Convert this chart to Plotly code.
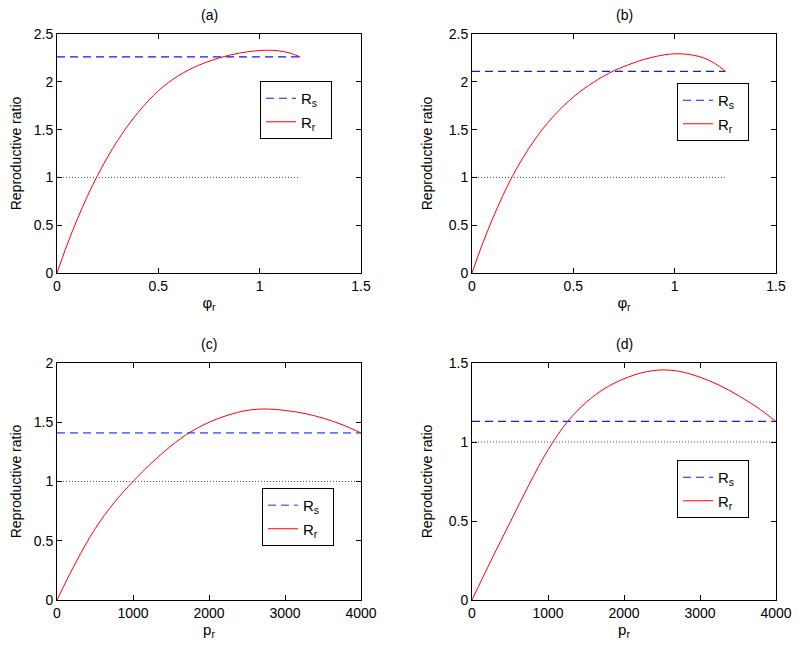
import plotly.graph_objects as go

# ---------------- data ----------------
a_phi = [0, 0.05, 0.1, 0.15, 0.2, 0.25, 0.3, 0.35, 0.4, 0.45, 0.5, 0.55, 0.6,
         0.65, 0.7, 0.75, 0.8, 0.85, 0.9, 0.95, 1.0, 1.05, 1.1, 1.15, 1.2]
a_Rr = [0, 0.296, 0.563, 0.804, 1.02, 1.215, 1.388, 1.543, 1.679, 1.80, 1.905,
        1.993, 2.065, 2.124, 2.174, 2.215, 2.25, 2.278, 2.30, 2.317, 2.327, 2.33,
        2.322, 2.30, 2.26]
a_Rs = 2.26
a_one_x = [0, 1.2]

b_phi = [0, 0.05, 0.1, 0.15, 0.2, 0.25, 0.3, 0.35, 0.4, 0.45, 0.5, 0.55, 0.6,
         0.65, 0.7, 0.75, 0.8, 0.85, 0.9, 0.95, 1.0, 1.05, 1.1, 1.15, 1.2, 1.25]
b_Rr = [0, 0.295, 0.56, 0.80, 1.015, 1.20, 1.365, 1.51, 1.635, 1.745, 1.84,
        1.925, 1.995, 2.06, 2.115, 2.16, 2.20, 2.235, 2.262, 2.282, 2.293,
        2.29, 2.275, 2.245, 2.19, 2.11]
b_Rs = 2.11
b_one_x = [0, 1.25]

c_p = [0, 250, 500, 750, 1000, 1250, 1500, 1750, 2000, 2250, 2500, 2750,
       3000, 3250, 3500, 3750, 4000]
c_Rr = [0, 0.32, 0.60, 0.82, 1.00, 1.16, 1.30, 1.415, 1.50, 1.56, 1.60, 1.612,
        1.60, 1.575, 1.535, 1.48, 1.41]
c_Rs = 1.41
c_one_x = [0, 4000]

d_p = [0, 250, 500, 750, 1000, 1250, 1500, 1750, 2000, 2250, 2500, 2750,
       3000, 3250, 3500, 3750, 4000]
d_Rr = [0, 0.25, 0.49, 0.73, 0.95, 1.125, 1.25, 1.34, 1.40, 1.44, 1.456,
        1.445, 1.41, 1.36, 1.295, 1.22, 1.13]
d_Rs = 1.13
d_one_x = [0, 4000]

panels = [
    dict(tag="(a)", x=a_phi, r=a_Rr, rs=a_Rs, one=a_one_x, xlab="φ<sub>r</sub>",
         xr=[0, 1.5], xd=0.5, yr=[0, 2.5], yd=0.5, rsc="#1515ff", rsw=1.2),
    dict(tag="(b)", x=b_phi, r=b_Rr, rs=b_Rs, one=b_one_x, xlab="φ<sub>r</sub>",
         xr=[0, 1.5], xd=0.5, yr=[0, 2.5], yd=0.5, rsc="#1515ff", rsw=1.2),
    dict(tag="(c)", x=c_p, r=c_Rr, rs=c_Rs, one=c_one_x, xlab="p<sub>r</sub>",
         xr=[0, 4000], xd=1000, yr=[0, 2], yd=0.5, rsc="#6677ff", rsw=1.6),
    dict(tag="(d)", x=d_p, r=d_Rr, rs=d_Rs, one=d_one_x, xlab="p<sub>r</sub>",
         xr=[0, 4000], xd=1000, yr=[0, 1.5], yd=0.5, rsc="#1515ff", rsw=1.2),
]

# page body has an 8px margin, so the figure is laid out 8px smaller
OFF = 8
W, H = 800 - OFF, 655 - OFF


def px_x(v):
    return (v - OFF) / W


def px_y(v):
    return 1 - (v - OFF) / H


xdoms = [[px_x(57), px_x(361)], [px_x(472), px_x(776)]]
ydoms = [[px_y(273), px_y(34)], [px_y(600), px_y(363)]]
legend_pos = [(260, 81), (677, 83), (262, 488), (677, 460)]

FONT = "Liberation Sans, Arial, Helvetica, sans-serif"

fig = go.Figure()
layout = dict(
    width=W, height=H, margin=dict(l=0, r=0, t=0, b=0, autoexpand=False),
    plot_bgcolor="white", paper_bgcolor="white",
    font=dict(family=FONT, size=14, color="black"),
    annotations=[],
)

for i, p in enumerate(panels):
    n = i + 1
    xa = "x" if n == 1 else f"x{n}"
    ya = "y" if n == 1 else f"y{n}"
    lg = "legend" if n == 1 else f"legend{n}"
    row, col = divmod(i, 2)
    xs = [p["x"][0], p["x"][-1]]
    fig.add_trace(go.Scatter(
        x=p["one"], y=[1, 1], mode="lines", xaxis=xa, yaxis=ya,
        line=dict(color="#555555", width=1, dash="1px,2px"),
        showlegend=False, hoverinfo="skip"))
    fig.add_trace(go.Scatter(
        x=xs, y=[p["rs"], p["rs"]], mode="lines", xaxis=xa, yaxis=ya,
        name="R<sub>s</sub>&nbsp;&nbsp;", legend=lg, legendgroup=f"s{n}",
        line=dict(color=p["rsc"], width=p["rsw"], dash="8px,5px")))
    fig.add_trace(go.Scatter(
        x=p["x"], y=p["r"], mode="lines", xaxis=xa, yaxis=ya,
        name="R<sub>r</sub>&nbsp;&nbsp;", legend=lg, legendgroup=f"r{n}",
        line_shape="spline",
        line=dict(color="#ff0000", width=1)))

    axis_common = dict(
        showline=True, linecolor="black", linewidth=1, mirror="ticks",
        ticks="inside", ticklen=5, tickcolor="black", showgrid=False,
        zeroline=False, automargin=False,
        tickfont=dict(size=14, family=FONT))
    xkey = "xaxis" if n == 1 else f"xaxis{n}"
    ykey = "yaxis" if n == 1 else f"yaxis{n}"
    layout[xkey] = dict(axis_common, domain=xdoms[col], anchor=ya,
                        range=p["xr"], dtick=p["xd"], tick0=0,
                        title=dict(text=p["xlab"], standoff=4,
                                   font=dict(size=15, family=FONT)))
    layout[ykey] = dict(axis_common, domain=ydoms[row], anchor=xa,
                        range=p["yr"], dtick=p["yd"], tick0=0,
                        title=dict(text="Reproductive ratio", standoff=12,
                                   font=dict(size=14, family=FONT)))
    lx, ly = legend_pos[i]
    layout[lg] = dict(x=px_x(lx), y=px_y(ly), xanchor="left", yanchor="top",
                      xref="paper", yref="paper",
                      bgcolor="white", bordercolor="black", borderwidth=1,
                      font=dict(size=15, family=FONT), itemwidth=30,
                      tracegroupgap=1)
    layout["annotations"].append(dict(
        text=p["tag"], xref=f"{xa} domain", yref=f"{ya} domain",
        x=0.5, y=1, xanchor="center", yanchor="bottom", yshift=9,
        showarrow=False, font=dict(size=14, family=FONT)))

fig.update_layout(**layout)
fig.write_html("out.html")
